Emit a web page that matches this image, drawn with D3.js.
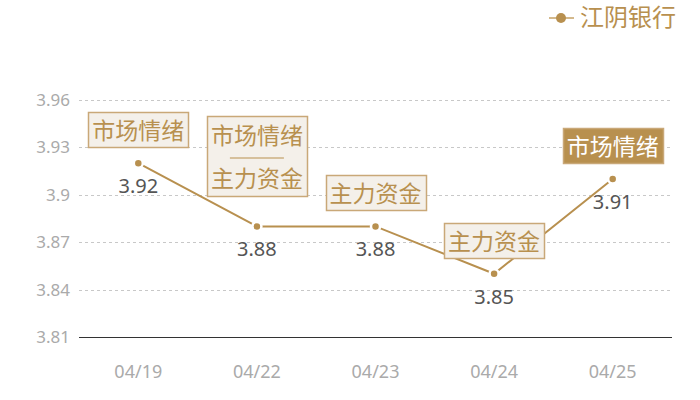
<!DOCTYPE html>
<html>
<head>
<meta charset="utf-8">
<script src="https://cdn.jsdelivr.net/npm/d3@7/dist/d3.min.js"></script>
<style>
  body { margin: 0; background: #fff; }
  svg { display: block; font-family: "Noto Sans", "Noto Sans CJK SC", sans-serif; }
</style>
</head>
<body>
<div id="chart"></div>
<script>
const dates = ['04/19', '04/22', '04/23', '04/24', '04/25'];
const prices = [3.92, 3.88, 3.88, 3.85, 3.91];
const yTicks = [3.81, 3.84, 3.87, 3.9, 3.93, 3.96];
// annotation lines per date, and which one is highlighted
const notes = [['市场情绪'], ['市场情绪', '主力资金'], ['主力资金'], ['主力资金'], ['市场情绪']];
const highlighted = [false, false, false, false, true];
const seriesName = '江阴银行';

const width = 700;
const height = 400;
const gold = '#b8904f';
const margin = { top: 100, right: 28, bottom: 63, left: 79 };

const svg = d3
  .select('#chart')
  .append('svg')
  .attr('width', width)
  .attr('height', height);

const xScale = d3
  .scaleBand()
  .domain(dates)
  .range([margin.left, width - margin.right]);

const yScale = d3
  .scaleLinear()
  .domain([3.81, 3.96])
  .range([height - margin.bottom, margin.top]);

const cx = (d) => xScale(d) + xScale.bandwidth() / 2;
const crisp = (v) => Math.round(v) + 0.5;

// grid lines
svg
  .append('g')
  .selectAll('line')
  .data(yTicks.slice(1))
  .enter()
  .append('line')
  .attr('x1', margin.left)
  .attr('x2', width - margin.right)
  .attr('y1', (d) => crisp(yScale(d)))
  .attr('y2', (d) => crisp(yScale(d)))
  .attr('stroke', '#c8c8c8')
  .attr('stroke-dasharray', '3,3');

// y axis labels
svg
  .append('g')
  .selectAll('text')
  .data(yTicks)
  .enter()
  .append('text')
  .attr('x', 70)
  .attr('y', (d) => yScale(d))
  .attr('dy', '0.35em')
  .attr('text-anchor', 'end')
  .attr('font-size', 17)
  .attr('fill', '#aaaaaa')
  .text((d) => d);

// x axis
svg
  .append('line')
  .attr('x1', margin.left)
  .attr('x2', width - margin.right)
  .attr('y1', crisp(yScale(3.81)))
  .attr('y2', crisp(yScale(3.81)))
  .attr('stroke', '#333')
  .attr('stroke-width', 1);

svg
  .append('g')
  .selectAll('text')
  .data(dates)
  .enter()
  .append('text')
  .attr('x', (d) => cx(d))
  .attr('y', 372)
  .attr('dy', '0.35em')
  .attr('text-anchor', 'middle')
  .attr('font-size', 18)
  .attr('fill', '#aaaaaa')
  .text((d) => d);

// price line
const line = d3
  .line()
  .x((d, i) => cx(dates[i]))
  .y((d) => yScale(d));

svg
  .append('path')
  .datum(prices)
  .attr('d', line)
  .attr('fill', 'none')
  .attr('stroke', gold)
  .attr('stroke-width', 2);

svg
  .append('g')
  .selectAll('circle')
  .data(prices)
  .enter()
  .append('circle')
  .attr('cx', (d, i) => cx(dates[i]))
  .attr('cy', (d) => yScale(d))
  .attr('r', 4.5)
  .attr('fill', gold)
  .attr('stroke', '#fff')
  .attr('stroke-width', 2.5);

// value labels
svg
  .append('g')
  .selectAll('text')
  .data(prices)
  .enter()
  .append('text')
  .attr('x', (d, i) => cx(dates[i]))
  .attr('y', (d) => yScale(d) + 23)
  .attr('dy', '0.35em')
  .attr('text-anchor', 'middle')
  .attr('font-size', 20)
  .attr('fill', '#555')
  .text((d) => d.toFixed(2));

// annotation boxes
const boxW = 100;
const lineH = 35;
const noteFont = 23;
notes.forEach(function (lines, i) {
  const x = cx(dates[i]);
  const py = yScale(prices[i]);
  const multi = lines.length > 1;
  const boxH = multi ? 80 : lineH;
  const gap = multi ? 30 : 16;
  const top = Math.round(py - gap - boxH);
  const g = svg.append('g');
  const dark = highlighted[i];

  g.append('rect')
    .attr('x', Math.round(x - boxW / 2) + 0.5)
    .attr('y', top + 0.5)
    .attr('width', boxW)
    .attr('height', boxH)
    .attr('fill', dark ? gold : '#f4f0ea')
    .attr('stroke', '#c9a878')
    .attr('stroke-width', 1.5);

  if (multi) {
    g.append('text')
      .attr('x', x)
      .attr('y', top + 20)
      .attr('dy', '0.35em')
      .attr('text-anchor', 'middle')
      .attr('font-size', noteFont)
      .attr('fill', gold)
      .text(lines[0]);
    g.append('line')
      .attr('x1', x - 27)
      .attr('x2', x + 27)
      .attr('y1', top + 42)
      .attr('y2', top + 42)
      .attr('stroke', gold)
      .attr('stroke-width', 1.2);
    g.append('text')
      .attr('x', x)
      .attr('y', top + 63)
      .attr('dy', '0.35em')
      .attr('text-anchor', 'middle')
      .attr('font-size', noteFont)
      .attr('fill', gold)
      .text(lines[1]);
  } else {
    g.append('text')
      .attr('x', x)
      .attr('y', top + boxH / 2 + 1)
      .attr('dy', '0.35em')
      .attr('text-anchor', 'middle')
      .attr('font-size', noteFont)
      .attr('fill', dark ? '#fff' : gold)
      .text(lines[0]);
  }
});

// legend
const legend = svg.append('g');
legend
  .append('line')
  .attr('x1', 549)
  .attr('x2', 574)
  .attr('y1', 18)
  .attr('y2', 18)
  .attr('stroke', '#d4b98c')
  .attr('stroke-width', 2);
legend
  .append('circle')
  .attr('cx', 561)
  .attr('cy', 18)
  .attr('r', 5)
  .attr('fill', gold);
legend
  .append('text')
  .attr('x', 580)
  .attr('y', 18)
  .attr('dy', '0.35em')
  .attr('font-size', 24)
  .attr('fill', gold)
  .text(seriesName);
</script>
</body>
</html>
